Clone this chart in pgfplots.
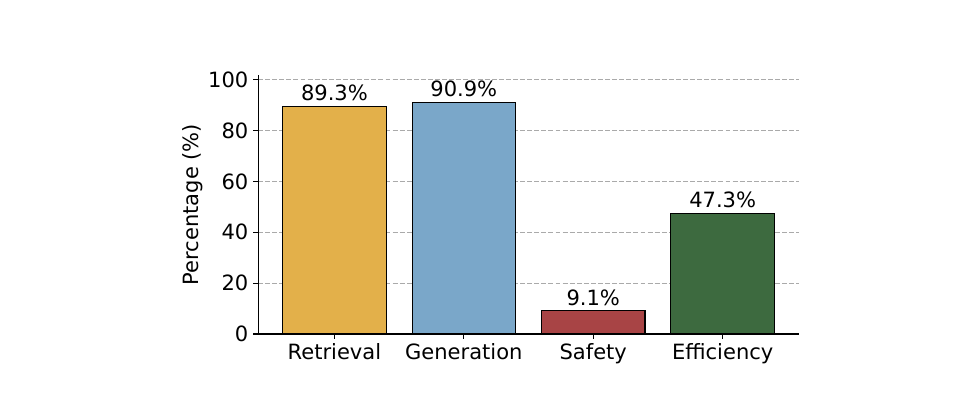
\documentclass[border=0pt]{standalone}
\usepackage{pgfplots}
\pgfplotsset{compat=1.18}
\usepackage{fontspec}
\setmainfont{DejaVu Sans}
\definecolor{cgold}{RGB}{227,176,74}
\definecolor{cblue}{RGB}{122,167,201}
\definecolor{cred}{RGB}{168,68,69}
\definecolor{cgreen}{RGB}{61,106,63}
\definecolor{cgrid}{RGB}{170,170,170}
\begin{document}
\begin{tikzpicture}[x=1bp,y=1bp]
\path[use as bounding box] (0,0) rectangle (698.4bp,285.1bp);
\begin{axis}[
  at={(185.8bp,44.6bp)}, anchor=south west,
  scale only axis, width=389.5bp, height=186.5bp,
  xmin=-0.59, xmax=3.59, ymin=0, ymax=101.8,
  xtick={0,1,2,3},
  xticklabels={Retrieval,Generation,Safety,Efficiency},
  ytick={0,20,40,60,80,100},
  axis x line*=bottom, axis y line*=left,
  axis line style={black, line width=0.8pt},
  tick align=outside, major tick length=3.5bp,
  tick style={black, line width=0.8pt},
  ymajorgrids, grid style={cgrid, dashed, line width=0.7pt, dash pattern=on 3.5bp off 1.6bp},
  ticklabel style={font=\fontsize{15.2}{17}\selectfont},
  /pgf/number format/assume math mode=true,
  ylabel={Percentage (\%)},
  ylabel style={font=\fontsize{15.2}{17}\selectfont},
  ylabel shift=-3bp,
  ybar, bar width=0.8, bar shift=0pt,
  nodes near coords={\pgfmathprintnumber[fixed,precision=1,fixed zerofill]{\pgfplotspointmeta}\%},
  nodes near coords style={font=\fontsize{15.2}{17}\selectfont, black, anchor=base, inner sep=0pt, yshift=4.2bp},
  clip=false,
]
\addplot[fill=cgold, draw=black, line width=0.8pt] coordinates {(0,89.3)};
\addplot[fill=cblue, draw=black, line width=0.8pt] coordinates {(1,90.9)};
\addplot[fill=cred, draw=black, line width=0.8pt] coordinates {(2,9.1)};
\addplot[fill=cgreen, draw=black, line width=0.8pt] coordinates {(3,47.3)};
\end{axis}
\end{tikzpicture}
\end{document}
